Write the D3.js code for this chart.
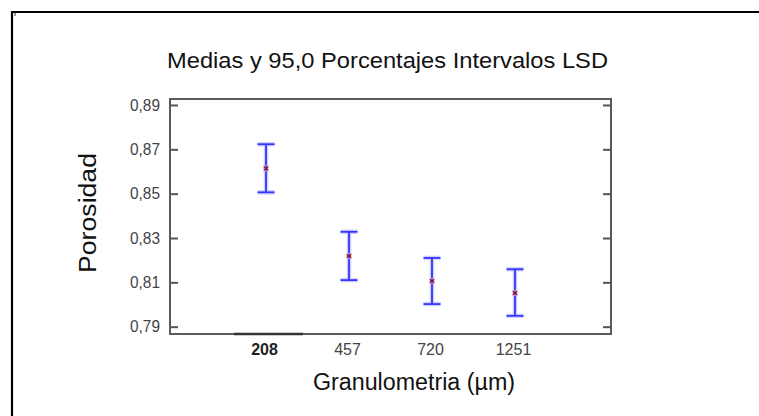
<!DOCTYPE html>
<html>
<head>
<meta charset="utf-8">
<script src="https://cdn.jsdelivr.net/npm/d3@7"></script>
<style>
  body { margin: 0; background: #fff; }
  text { font-family: "Liberation Sans", Arial, sans-serif; }
  .narrow { font-family: "Liberation Sans Narrow", "Liberation Sans", Arial, sans-serif; }
</style>
</head>
<body>
<div id="chart"></div>
<script>
const $ = (element) => d3.select(element);
const categories = ["208", "457", "720", "1251"];
const means = [0.8614, 0.8219, 0.8106, 0.8052];
const lower = [0.8506, 0.8110, 0.8002, 0.7949];
const upper = [0.8723, 0.8328, 0.8210, 0.8159];
const yTicks = [0.79, 0.81, 0.83, 0.85, 0.87, 0.89];

const width = 759;
const height = 416;
const plot = { left: 170, right: 611, top: 99, bottom: 334 };

const locale = d3.formatLocale({ decimal: ",", thousands: ".", grouping: [3], currency: ["", ""] });
const fmt = locale.format(".2f");

const svg = $("#chart")
  .append("svg")
  .attr("width", width)
  .attr("height", height);

// outer frame (top and left edges only)
svg.append("path")
  .attr("d", `M12,${height} V12 H${width}`)
  .attr("fill", "none")
  .attr("stroke", "#000")
  .attr("stroke-width", 2.2);
svg.append("rect")
  .attr("x", 14).attr("y", 13).attr("width", 2).attr("height", 3)
  .attr("fill", "#999");

const x = d3.scalePoint()
  .domain(categories)
  .range([plot.left, plot.right])
  .padding(1.157);

const y = d3.scaleLinear()
  .domain([0.7867, 0.8927])
  .range([plot.bottom, plot.top]);

// title
svg.append("text")
  .attr("class", "narrow")
  .attr("x", 387.5)
  .attr("y", 68)
  .attr("text-anchor", "middle")
  .attr("font-size", 22)
  .attr("fill", "#111")
  .attr("textLength", 441)
  .attr("lengthAdjust", "spacingAndGlyphs")
  .text("Medias y 95,0 Porcentajes Intervalos LSD");

// left axis
const left = svg.append("g")
  .attr("transform", `translate(${plot.left},0)`)
  .call(d3.axisLeft(y).tickValues(yTicks).tickSize(-8).tickPadding(10).tickFormat(fmt));
left.select(".domain").remove();
left.selectAll("line").attr("stroke", "#555").attr("stroke-width", 2);
left.selectAll("text")
  .attr("class", "narrow")
  .attr("font-size", 16)
  .attr("fill", "#444")
  .attr("textLength", 30)
  .attr("lengthAdjust", "spacingAndGlyphs");

// right axis
const right = svg.append("g")
  .attr("transform", `translate(${plot.right},0)`)
  .call(d3.axisRight(y).tickValues(yTicks).tickSize(-8).tickFormat(""));
right.select(".domain").remove();
right.selectAll("line").attr("stroke", "#555").attr("stroke-width", 2);

// bottom axis
const bottom = svg.append("g")
  .attr("transform", `translate(0,${plot.bottom})`)
  .call(d3.axisBottom(x).tickSize(0).tickPadding(10));
bottom.select(".domain").remove();
bottom.selectAll("text")
  .attr("class", "narrow")
  .attr("font-size", 16)
  .attr("fill", (d) => (d === "208" ? "#222" : "#444"))
  .attr("font-weight", (d) => (d === "208" ? "bold" : "normal"))
  .attr("dx", -2);

// plot frame
svg.append("rect")
  .attr("x", plot.left)
  .attr("y", plot.top)
  .attr("width", plot.right - plot.left)
  .attr("height", plot.bottom - plot.top)
  .attr("fill", "none")
  .attr("stroke", "#5a5a5a")
  .attr("stroke-width", 2);

// darker piece of the bottom edge under the first category
svg.append("line")
  .attr("x1", x("208") - 32)
  .attr("x2", x("208") + 37)
  .attr("y1", plot.bottom)
  .attr("y2", plot.bottom)
  .attr("stroke", "#333")
  .attr("stroke-width", 2.6);

// axis titles
svg.append("text")
  .attr("class", "narrow")
  .attr("x", 414)
  .attr("y", 390)
  .attr("text-anchor", "middle")
  .attr("font-size", 23)
  .attr("fill", "#111")
  .attr("textLength", 202)
  .attr("lengthAdjust", "spacingAndGlyphs")
  .text("Granulometria (µm)");

svg.append("text")
  .attr("class", "narrow")
  .attr("transform", "translate(96,213) rotate(-90)")
  .attr("text-anchor", "middle")
  .attr("font-size", 23)
  .attr("fill", "#111")
  .attr("textLength", 120)
  .attr("lengthAdjust", "spacingAndGlyphs")
  .text("Porosidad");

// error bars
const data = categories.map((c, i) => ({ c, mean: means[i], lo: lower[i], hi: upper[i] }));
const bars = svg.append("g").selectAll("g").data(data).join("g");
const cap = 8.5;

const drawBar = (g, color, w) => {
  g.append("line")
    .attr("x1", (d) => x(d.c)).attr("x2", (d) => x(d.c))
    .attr("y1", (d) => y(d.lo)).attr("y2", (d) => y(d.hi))
    .attr("stroke", color).attr("stroke-width", w);
  ["lo", "hi"].forEach((k) => {
    g.append("line")
      .attr("x1", (d) => x(d.c) - cap).attr("x2", (d) => x(d.c) + cap)
      .attr("y1", (d) => y(d[k])).attr("y2", (d) => y(d[k]))
      .attr("stroke", color).attr("stroke-width", w);
  });
};
drawBar(bars, "#d0d0ff", 4.5);
drawBar(bars, "#3434ff", 1.8);

// mean markers
bars.append("rect")
  .attr("x", (d) => x(d.c) - 3)
  .attr("y", (d) => y(d.mean) - 3)
  .attr("width", 6)
  .attr("height", 6)
  .attr("fill", "#e8a9c4")
  .attr("opacity", 0.7);
bars.append("path")
  .attr("d", (d) => {
    const cx = x(d.c), cy = y(d.mean), s = 1.8;
    return `M${cx - s},${cy - s}L${cx + s},${cy + s}M${cx - s},${cy + s}L${cx + s},${cy - s}`;
  })
  .attr("stroke", "#6e1048")
  .attr("stroke-width", 1.5);
</script>
</body>
</html>
